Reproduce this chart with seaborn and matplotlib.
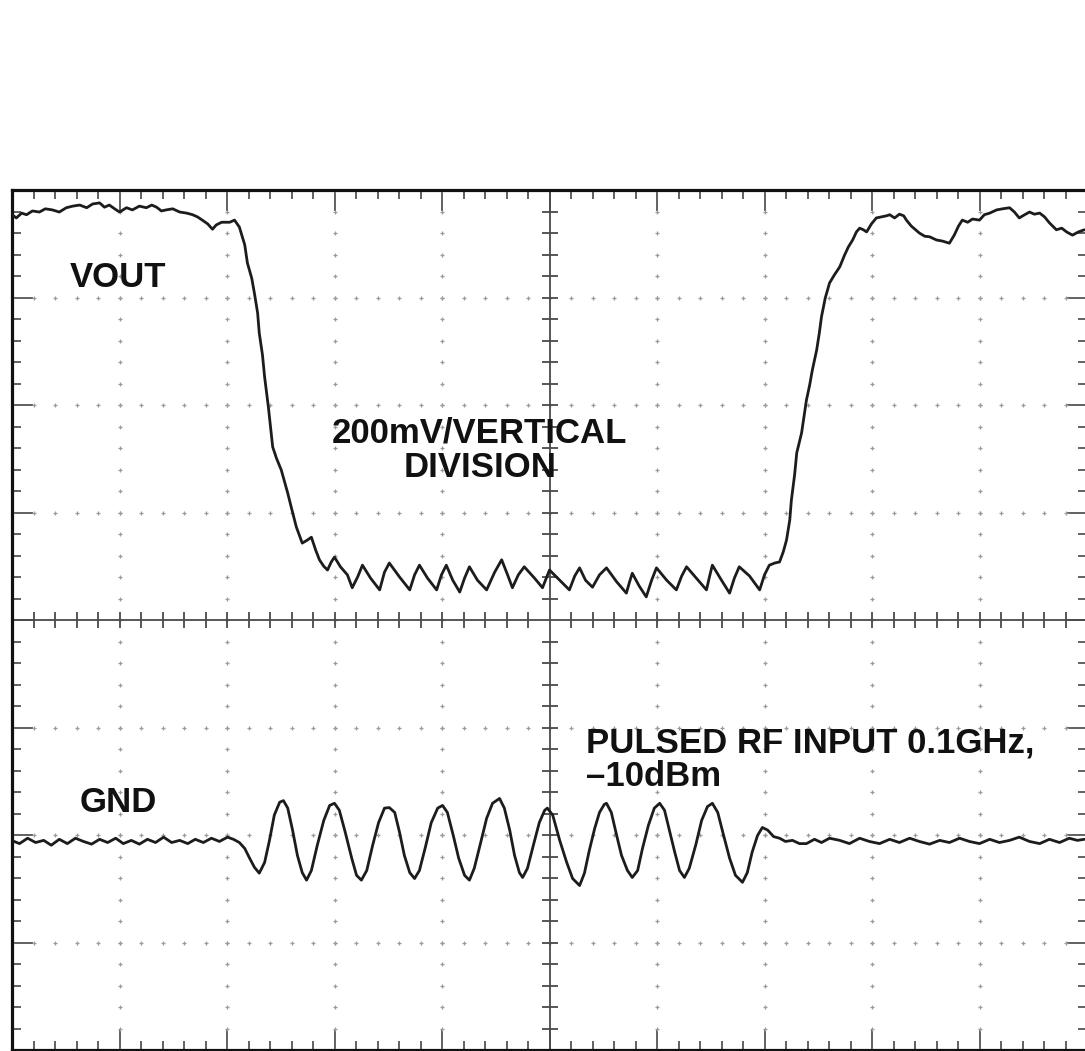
import numpy as np
import pandas as pd
import matplotlib
matplotlib.use("Agg")
import matplotlib.pyplot as plt
from matplotlib.ticker import MultipleLocator
import seaborn as sns

# ---------------------------------------------------------------------------
# Scope capture: 20 ns/div horizontal, 200 mV/div vertical (screen-centred)
# ---------------------------------------------------------------------------
NS_PER_DIV = 20
MV_PER_DIV = 200
H_DIVS = 10
V_DIVS = 8

# Channel 1: detector output (VOUT)
vout_t = [
    -100.1, -99.2, -98.2, -97.3, -96.2, -94.9, -93.8, -92.5, -91.2, -89.9,
    -88.7, -87.4, -86.1, -85.0, -83.7, -82.8, -81.9, -80.9, -80.0, -78.7,
    -77.6, -76.3, -75.0, -74.0, -73.1, -72.2, -71.3, -70.1, -68.8, -67.5,
    -66.4, -65.5, -64.6, -63.6, -62.7, -62.0, -61.0, -59.5, -58.6, -57.7,
    -56.7, -56.2, -55.4, -54.9, -54.3, -54.0, -53.4, -53.0, -52.3, -51.5,
    -50.8, -49.9, -48.7, -48.0, -47.1, -46.0, -45.0, -44.3, -43.5, -42.8,
    -42.0, -41.3, -40.6, -40.0, -38.9, -37.6, -36.7, -35.7, -34.8, -33.3,
    -31.6, -30.7, -29.8, -27.9, -26.0, -25.1, -24.2, -22.7, -21.0, -20.1,
    -19.2, -18.0, -16.7, -15.8, -14.9, -13.4, -11.7, -10.2, -8.9, -7.8,
    -6.9, -5.8, -4.7, -2.8, -1.3, -0.6, 0.0, 1.9, 3.7, 4.7,
    5.6, 6.7, 8.0, 9.3, 10.6, 12.5, 14.3, 14.9, 15.4, 16.7,
    18.0, 19.0, 19.9, 21.8, 23.6, 24.6, 25.5, 27.3, 29.2, 29.8,
    30.3, 32.0, 33.5, 34.4, 35.3, 37.2, 39.1, 40.0, 40.9, 41.9,
    42.8, 43.5, 44.1, 44.7, 45.0, 45.6, 46.0, 46.9, 47.8, 48.4,
    48.9, 49.7, 50.2, 50.6, 51.3, 52.1, 53.0, 54.0, 54.9, 55.6,
    56.4, 57.1, 57.7, 58.4, 59.0, 59.9, 60.8, 61.8, 62.7, 63.3,
    64.2, 65.1, 65.9, 66.4, 67.3, 68.1, 68.8, 69.8, 70.7, 72.0,
    73.1, 74.4, 75.3, 76.1, 76.8, 77.8, 78.7, 80.0, 80.9, 81.9,
    83.2, 84.3, 85.6, 86.5, 87.4, 88.4, 89.3, 90.2, 91.2, 92.1,
    93.0, 94.3, 95.3, 96.2, 97.3, 98.4, 99.5,
]
vout_mv = [
    755, 748, 757, 754, 761, 759, 765, 763, 759, 767,
    770, 772, 767, 774, 776, 768, 772, 765, 759, 767,
    763, 770, 767, 772, 768, 761, 763, 765, 759, 757,
    754, 750, 744, 737, 727, 735, 740, 740, 744, 731,
    698, 664, 636, 608, 571, 534, 493, 452, 396, 322,
    301, 279, 236, 208, 173, 143, 149, 154, 130, 112,
    100, 93, 108, 117, 99, 84, 60, 80, 102, 78,
    56, 89, 106, 80, 56, 84, 102, 78, 56, 84,
    102, 74, 52, 78, 99, 74, 56, 89, 112, 84,
    60, 84, 99, 78, 60, 78, 93, 74, 56, 82,
    97, 74, 61, 84, 97, 71, 50, 71, 87, 63,
    43, 74, 97, 74, 56, 82, 99, 78, 56, 82,
    102, 74, 50, 78, 99, 82, 56, 84, 102, 106,
    108, 127, 149, 186, 223, 270, 311, 348, 409, 437,
    465, 502, 534, 564, 599, 627, 642, 657, 679, 694,
    707, 722, 729, 726, 722, 737, 748, 750, 752, 754,
    748, 755, 752, 744, 733, 726, 720, 714, 713, 707,
    705, 701, 716, 733, 744, 740, 746, 744, 754, 757,
    763, 765, 767, 759, 748, 754, 759, 755, 757, 750,
    739, 726, 729, 722, 716, 722, 726,
]

# Channel 2: pulsed RF input, mV relative to its GND marker
rf_t = [
    -100.1, -98.6, -97.1, -95.6, -94.1, -92.7, -91.2, -89.7, -88.2, -86.7,
    -85.2, -83.7, -82.2, -80.7, -79.3, -77.8, -76.3, -74.8, -73.3, -71.8,
    -70.3, -68.8, -67.3, -65.9, -64.4, -62.9, -61.4, -59.9, -58.8, -57.7,
    -56.7, -55.8, -54.9, -54.0, -53.0, -52.1, -51.2, -50.2, -49.5, -48.7,
    -47.8, -46.9, -46.0, -45.2, -44.3, -43.2, -42.0, -40.9, -40.0, -39.1,
    -38.0, -36.8, -35.9, -35.0, -34.0, -32.9, -31.8, -30.7, -29.8, -28.8,
    -27.9, -27.0, -26.0, -25.1, -24.2, -23.1, -22.0, -20.8, -19.9, -19.0,
    -17.9, -16.9, -15.8, -14.9, -14.0, -12.8, -11.7, -10.6, -9.3, -8.4,
    -7.4, -6.5, -5.6, -5.0, -4.1, -3.0, -1.9, -0.9, -0.4, 0.6,
    1.9, 3.2, 4.3, 5.6, 6.5, 7.4, 8.4, 9.3, 10.2, 10.6,
    11.5, 12.5, 13.4, 14.5, 15.4, 16.4, 17.3, 18.4, 19.5, 20.5,
    21.4, 22.3, 23.3, 24.2, 25.1, 26.0, 27.2, 28.3, 29.4, 30.3,
    31.3, 32.4, 33.5, 34.6, 35.9, 36.8, 37.7, 38.7, 39.6, 40.6,
    41.7, 42.8, 43.9, 45.2, 46.5, 47.8, 49.3, 50.6, 52.1, 54.0,
    55.8, 57.7, 59.5, 61.4, 63.3, 65.1, 67.0, 68.8, 70.7, 72.6,
    74.4, 76.3, 78.1, 80.0, 81.9, 83.7, 85.6, 87.4, 89.3, 91.2,
    93.0, 94.9, 96.7, 98.2, 99.5,
]
rf_mv = [
    0, -6, 4, -4, 0, -9, 2, -6, 4, -2,
    -7, 2, -4, 4, -6, 0, -7, 2, -4, 6,
    -4, 0, -6, 2, -4, 4, -2, 6, 2, -4,
    -15, -33, -50, -61, -41, 0, 47, 71, 74, 60,
    19, -28, -60, -74, -56, -9, 37, 65, 69, 56,
    15, -33, -65, -74, -56, -9, 33, 60, 61, 52,
    15, -28, -60, -71, -56, -13, 33, 60, 65, 52,
    9, -33, -65, -74, -52, -4, 41, 69, 78, 60,
    19, -28, -60, -69, -52, -9, 33, 56, 60, 47,
    0, -41, -71, -84, -61, -19, 22, 52, 67, 69,
    52, 9, -28, -56, -69, -56, -15, 28, 60, 69,
    56, 19, -22, -56, -69, -52, -9, 37, 63, 69,
    52, 9, -33, -65, -78, -60, -22, 9, 24, 19,
    7, 4, -2, 0, -6, -6, 2, -4, 4, 0,
    -6, 4, -2, -6, 2, -4, 4, -2, -7, 0,
    -4, 4, -2, -6, 2, -4, 0, 6, -2, -6,
    2, -4, 4, 0, 2,
]
GND_LEVEL_MV = -410  # screen position of the channel-2 ground marker

vout = pd.DataFrame({"t": vout_t, "mv": vout_mv})
rf = pd.DataFrame({"t": rf_t, "mv": np.asarray(rf_mv) + GND_LEVEL_MV})

# ---------------------------------------------------------------------------
sns.set_style("white")
plt.rcParams["font.family"] = ["Liberation Sans", "DejaVu Sans"]

W, H = 1085, 1051
fig = plt.figure(figsize=(W / 100, H / 100), dpi=100)
ax = fig.add_axes([12 / W, 1 / H, 1075 / W, 860 / H])

x_half = H_DIVS / 2 * NS_PER_DIV
y_half = V_DIVS / 2 * MV_PER_DIV
ax.set_xlim(-x_half, x_half)
ax.set_ylim(-y_half, y_half)

# graticule: border ticks every minor division, longer at each division
ax.xaxis.set_major_locator(MultipleLocator(NS_PER_DIV))
ax.xaxis.set_minor_locator(MultipleLocator(NS_PER_DIV / 5))
ax.yaxis.set_major_locator(MultipleLocator(MV_PER_DIV))
ax.yaxis.set_minor_locator(MultipleLocator(MV_PER_DIV / 5))
ax.tick_params(which="both", direction="in", top=True, right=True,
               bottom=True, left=True, labelbottom=False, labelleft=False,
               labeltop=False, labelright=False, color="#555555", width=1.3)
ax.tick_params(which="major", length=15)
ax.tick_params(which="minor", length=6.5)
for sp in ax.spines.values():
    sp.set_color("#111111")
    sp.set_linewidth(2.3)
    sp.set_visible(True)

# dotted division lines: a small cross at every minor step
x_minor = np.arange(-x_half, x_half + 0.01, NS_PER_DIV / 5)
y_minor = np.arange(-y_half, y_half + 0.01, MV_PER_DIV / 5)
x_major = np.arange(-x_half + NS_PER_DIV, x_half - 0.01, NS_PER_DIV)
y_major = np.arange(-y_half + MV_PER_DIV, y_half - 0.01, MV_PER_DIV)
x_major = x_major[np.abs(x_major) > 1e-6]
y_major = y_major[np.abs(y_major) > 1e-6]
gx = np.concatenate([np.repeat(x_major, len(y_minor)), np.tile(x_minor, len(y_major))])
gy = np.concatenate([np.tile(y_minor, len(x_major)), np.repeat(y_major, len(x_minor))])
ax.plot(gx, gy, ls="none", marker="+", ms=3.5, mew=0.9, color="#9a9a9a", zorder=1)

# centre cross with minor ticks
ax.axhline(0, color="#4a4a4a", lw=1.3, zorder=2)
ax.axvline(0, color="#4a4a4a", lw=1.3, zorder=2)
cx = x_minor[(np.abs(x_minor) > 1e-6) & (np.abs(x_minor) < x_half)]
cy = y_minor[(np.abs(y_minor) > 1e-6) & (np.abs(y_minor) < y_half)]
ax.plot(cx, np.zeros_like(cx), ls="none", marker="|", ms=12, mew=1.3,
        color="#4a4a4a", zorder=2)
ax.plot(np.zeros_like(cy), cy, ls="none", marker="_", ms=12, mew=1.3,
        color="#4a4a4a", zorder=2)

# traces
trace_kw = dict(color="#1c1c1c", lw=2.0, estimator=None, zorder=4)
sns.lineplot(data=vout, x="t", y="mv", ax=ax, **trace_kw)
sns.lineplot(data=rf, x="t", y="mv", ax=ax, **trace_kw)
ax.set_xlabel("")
ax.set_ylabel("")

# annotations
txt_kw = dict(fontsize=25, fontweight="bold", color="#111111",
              va="baseline", zorder=5)
ax.text(-89.3, 619, "VOUT", ha="left", **txt_kw)
ax.text(-13.0, 331, "200mV/VERTICAL", ha="center", **txt_kw)
ax.text(-13.0, 266, "DIVISION", ha="center", **txt_kw)
ax.text(6.7, -246, "PULSED RF INPUT 0.1GHz,", ha="left", **txt_kw)
ax.text(6.7, -309, "\u201310dBm", ha="left", **txt_kw)
ax.text(-87.4, -357, "GND", ha="left", **txt_kw)

fig.savefig("out.png", dpi=100, facecolor="white")
